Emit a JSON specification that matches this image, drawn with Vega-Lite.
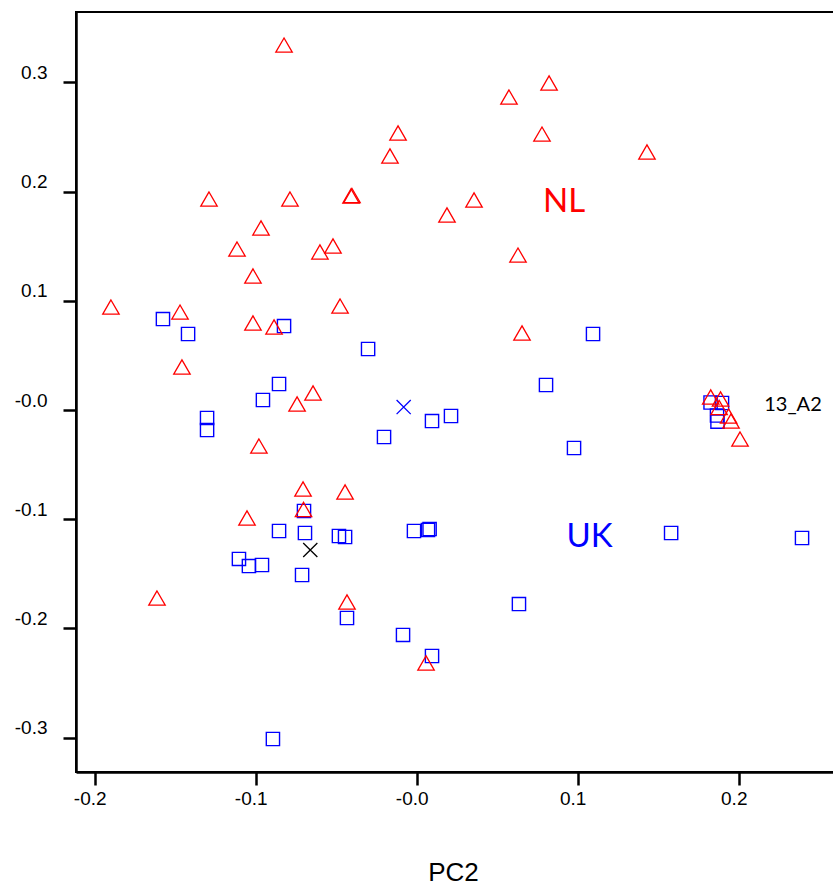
{
  "$schema": "https://vega.github.io/schema/vega-lite/v6.json",
  "autosize": {"type": "none"},
  "padding": {"left": 76, "top": 12, "right": 0, "bottom": 115},
  "width": 760,
  "height": 760,
  "background": "white",
  "config": {
    "view": {"stroke": "black", "strokeWidth": 2},
    "axis": {
      "grid": false,
      "domainColor": "black",
      "domainWidth": 2.5,
      "tickColor": "black",
      "tickWidth": 2.5,
      "tickSize": 13,
      "labelFont": "Liberation Sans",
      "labelFontSize": 19,
      "labelColor": "black",
      "titleFont": "Liberation Sans",
      "titleColor": "black",
      "titleFontWeight": "normal"
    }
  },
  "resolve": {"scale": {"color": "independent", "size": "independent"}},
  "datasets": {
    "points": [
      {"group": "NL", "pc2": -0.0824, "pc1": 0.3342},
      {"group": "NL", "pc2": -0.1290, "pc1": 0.1932},
      {"group": "NL", "pc2": -0.0787, "pc1": 0.1932},
      {"group": "NL", "pc2": -0.0967, "pc1": 0.1667},
      {"group": "NL", "pc2": -0.1116, "pc1": 0.1474},
      {"group": "NL", "pc2": -0.1017, "pc1": 0.1227},
      {"group": "NL", "pc2": -0.1899, "pc1": 0.0943},
      {"group": "NL", "pc2": -0.1470, "pc1": 0.0897},
      {"group": "NL", "pc2": -0.1017, "pc1": 0.0797},
      {"group": "NL", "pc2": -0.0886, "pc1": 0.0760},
      {"group": "NL", "pc2": -0.1458, "pc1": 0.0394},
      {"group": "NL", "pc2": -0.0980, "pc1": -0.0330},
      {"group": "NL", "pc2": -0.1054, "pc1": -0.0989},
      {"group": "NL", "pc2": -0.1613, "pc1": -0.1722},
      {"group": "NL", "pc2": -0.0743, "pc1": 0.0055},
      {"group": "NL", "pc2": -0.0644, "pc1": 0.0156},
      {"group": "NL", "pc2": -0.0476, "pc1": 0.0952},
      {"group": "NL", "pc2": -0.0706, "pc1": -0.0723},
      {"group": "NL", "pc2": -0.0445, "pc1": -0.0751},
      {"group": "NL", "pc2": -0.0703, "pc1": -0.0911},
      {"group": "NL", "pc2": -0.0433, "pc1": -0.1758},
      {"group": "NL", "pc2": 0.0058, "pc1": -0.2317},
      {"group": "NL", "pc2": 0.0822, "pc1": 0.2995},
      {"group": "NL", "pc2": 0.0573, "pc1": 0.2866},
      {"group": "NL", "pc2": -0.0116, "pc1": 0.2537},
      {"group": "NL", "pc2": 0.0778, "pc1": 0.2527},
      {"group": "NL", "pc2": -0.0166, "pc1": 0.2326},
      {"group": "NL", "pc2": -0.0408, "pc1": 0.1960},
      {"group": "NL", "pc2": -0.0402, "pc1": 0.1964},
      {"group": "NL", "pc2": 0.0356, "pc1": 0.1923},
      {"group": "NL", "pc2": 0.0188, "pc1": 0.1786},
      {"group": "NL", "pc2": -0.0601, "pc1": 0.1447},
      {"group": "NL", "pc2": -0.0520, "pc1": 0.1502},
      {"group": "NL", "pc2": 0.0629, "pc1": 0.1419},
      {"group": "NL", "pc2": 0.1430, "pc1": 0.2363},
      {"group": "NL", "pc2": 0.0654, "pc1": 0.0705},
      {"group": "NL", "pc2": 0.1826, "pc1": 0.0119},
      {"group": "NL", "pc2": 0.1887, "pc1": 0.0101},
      {"group": "NL", "pc2": 0.1878, "pc1": 0.0023},
      {"group": "NL", "pc2": 0.1937, "pc1": -0.0055},
      {"group": "NL", "pc2": 0.1952, "pc1": -0.0101},
      {"group": "NL", "pc2": 0.2008, "pc1": -0.0266},
      {"group": "UK", "pc2": -0.1576, "pc1": 0.0833},
      {"group": "UK", "pc2": -0.1420, "pc1": 0.0696},
      {"group": "UK", "pc2": -0.0824, "pc1": 0.0769},
      {"group": "UK", "pc2": -0.0855, "pc1": 0.0238},
      {"group": "UK", "pc2": -0.0955, "pc1": 0.0092},
      {"group": "UK", "pc2": -0.1302, "pc1": -0.0073},
      {"group": "UK", "pc2": -0.1302, "pc1": -0.0183},
      {"group": "UK", "pc2": -0.0855, "pc1": -0.1108},
      {"group": "UK", "pc2": -0.1104, "pc1": -0.1364},
      {"group": "UK", "pc2": -0.1042, "pc1": -0.1429},
      {"group": "UK", "pc2": -0.0961, "pc1": -0.1419},
      {"group": "UK", "pc2": -0.0712, "pc1": -0.1511},
      {"group": "UK", "pc2": -0.0893, "pc1": -0.3013},
      {"group": "UK", "pc2": -0.0433, "pc1": -0.1905},
      {"group": "UK", "pc2": -0.0085, "pc1": -0.2060},
      {"group": "UK", "pc2": 0.0095, "pc1": -0.2253},
      {"group": "UK", "pc2": 0.0635, "pc1": -0.1777},
      {"group": "UK", "pc2": -0.0302, "pc1": 0.0559},
      {"group": "UK", "pc2": 0.0803, "pc1": 0.0229},
      {"group": "UK", "pc2": 0.0095, "pc1": -0.0101},
      {"group": "UK", "pc2": 0.0213, "pc1": -0.0055},
      {"group": "UK", "pc2": -0.0203, "pc1": -0.0247},
      {"group": "UK", "pc2": 0.0977, "pc1": -0.0348},
      {"group": "UK", "pc2": -0.0700, "pc1": -0.0925},
      {"group": "UK", "pc2": -0.0694, "pc1": -0.1126},
      {"group": "UK", "pc2": -0.0483, "pc1": -0.1154},
      {"group": "UK", "pc2": -0.0445, "pc1": -0.1163},
      {"group": "UK", "pc2": -0.0017, "pc1": -0.1108},
      {"group": "UK", "pc2": 0.0070, "pc1": -0.1099},
      {"group": "UK", "pc2": 0.0080, "pc1": -0.1090},
      {"group": "UK", "pc2": 0.1095, "pc1": 0.0696},
      {"group": "UK", "pc2": 0.1580, "pc1": -0.1126},
      {"group": "UK", "pc2": 0.2393, "pc1": -0.1172},
      {"group": "UK", "pc2": 0.1825, "pc1": 0.0069},
      {"group": "UK", "pc2": 0.1896, "pc1": 0.0064},
      {"group": "UK", "pc2": 0.1865, "pc1": -0.0050},
      {"group": "UK", "pc2": 0.1868, "pc1": -0.0107},
      {"group": "UK centre", "pc2": -0.0081, "pc1": 0.0027},
      {"group": "overall centre", "pc2": -0.0661, "pc1": -0.1282}
    ],
    "labels": [
      {"label": "NL", "kind": "NL", "pc2": 0.0915, "pc1": 0.1905},
      {"label": "UK", "kind": "UK", "pc2": 0.1073, "pc1": -0.1163},
      {"label": "13_A2", "kind": "sample", "pc2": 0.2337, "pc1": 0.0050}
    ]
  },
  "encoding": {
    "x": {
      "field": "pc2", "type": "quantitative",
      "scale": {"domain": [-0.2116, 0.2604], "nice": false, "zero": false},
      "axis": {
        "values": [-0.2, -0.1, 0, 0.1, 0.2],
        "labelExpr": "datum.value == 0 ? '-0.0' : (datum.value < 0 ? '-' + format(-datum.value, '.1f') : format(datum.value, '.1f'))",
        "labelOffset": -5,
        "labelPadding": 4,
        "labelBaseline": "top",
        "title": "PC2",
        "titleFontSize": 26,
        "titleX": 377,
        "titleY": 108,
        "titleBaseline": "alphabetic",
        "titleAlign": "center"
      }
    },
    "y": {
      "field": "pc1", "type": "quantitative",
      "scale": {"domain": [-0.3315, 0.3645], "nice": false, "zero": false},
      "axis": {
        "values": [-0.3, -0.2, -0.1, 0, 0.1, 0.2, 0.3],
        "labelExpr": "datum.value == 0 ? '-0.0' : (datum.value < 0 ? '-' + format(-datum.value, '.1f') : format(datum.value, '.1f'))",
        "labelOffset": -10,
        "labelPadding": 16,
        "labelBaseline": "middle",
        "title": null
      }
    }
  },
  "layer": [
    {
      "data": {"name": "points"},
      "transform": [{"filter": "datum.group == 'UK'"}],
      "mark": {"type": "point", "shape": "square", "filled": false, "color": "#0000ff", "size": 175, "strokeWidth": 1.4, "opacity": 1}
    },
    {
      "data": {"name": "points"},
      "transform": [{"filter": "datum.group == 'NL'"}],
      "mark": {"type": "point", "shape": "triangle-up", "filled": false, "color": "#ff0000", "size": 270, "strokeWidth": 1.3, "opacity": 1}
    },
    {
      "data": {"name": "points"},
      "transform": [{"filter": "datum.group == 'UK centre' || datum.group == 'overall centre'"}],
      "mark": {"type": "point", "shape": "M-1,-1L1,1M-1,1L1,-1", "filled": false, "size": 200, "strokeWidth": 1.3, "opacity": 1},
      "encoding": {
        "color": {
          "field": "group", "type": "nominal",
          "scale": {"domain": ["UK centre", "overall centre"], "range": ["#0000ff", "#000000"]},
          "legend": null
        }
      }
    },
    {
      "data": {"name": "labels"},
      "mark": {"type": "text", "font": "Lato", "align": "center", "baseline": "middle"},
      "encoding": {
        "text": {"field": "label", "type": "nominal"},
        "color": {
          "field": "kind", "type": "nominal",
          "scale": {"domain": ["NL", "UK", "sample"], "range": ["#ff0000", "#0000ff", "#000000"]},
          "legend": null
        },
        "size": {
          "field": "kind", "type": "nominal",
          "scale": {"type": "ordinal", "domain": ["NL", "UK", "sample"], "range": [33, 33, 20]},
          "legend": null
        }
      }
    }
  ]
}
